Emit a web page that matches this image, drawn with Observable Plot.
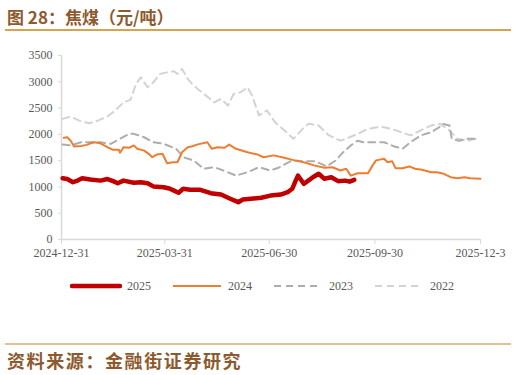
<!DOCTYPE html>
<html>
<head>
<meta charset="utf-8">
<script src="https://cdn.jsdelivr.net/npm/d3@7"></script>
<script src="https://cdn.jsdelivr.net/npm/@observablehq/plot@0.6"></script>
<style>
  html, body { margin:0; padding:0; background:#fff; }
  #page { position:relative; width:516px; height:375px; overflow:hidden; background:#fff; }
  #title { position:absolute; left:7px; top:4px; font-family:"Noto Sans CJK SC", sans-serif; font-weight:bold; font-size:17px; color:#8C5A2E; white-space:nowrap; }
  #topline { position:absolute; left:5px; top:29px; width:506px; height:2px; background:#D6A34E; }
  #chart { position:absolute; left:0; top:40px; }
  #legend { position:absolute; left:0; top:276px; width:516px; height:20px; font-family:"Liberation Serif", serif; font-size:12px; color:#595959; }
  .item { position:absolute; top:0; height:20px; display:flex; align-items:center; }
  .item span { margin-left:5px; }
  #botline { position:absolute; left:5px; top:343px; width:506px; height:2px; background:#DFC28F; }
  #caption { position:absolute; left:7px; top:347px; font-family:"Noto Sans CJK SC", sans-serif; font-weight:bold; font-size:18px; letter-spacing:1.6px; color:#8C5A2E; white-space:nowrap; }
</style>
</head>
<body>
<div id="page">
  <div id="title">图 28：焦煤（元/吨）</div>
  <div id="topline"></div>
  <div id="chart"></div>
  <div id="legend"></div>
  <div id="botline"></div>
  <div id="caption">资料来源：金融街证券研究</div>
</div>
<script>
// ---- data (month-day on the 2025 calendar axis, value in 元/吨) ----
const dates2025 = ["01-01","01-05","01-10","01-14","01-18","01-25","02-03","02-09","02-14","02-18","02-23","03-04","03-10","03-16","03-21","03-30","04-04","04-08","04-12","04-16","04-22","05-01","05-10","05-19","05-27","06-03","06-07","06-14","06-23","07-01","07-10","07-16","07-20","07-23","07-25","07-27","07-30","08-03","08-07","08-12","08-17","08-23","08-29","09-04","09-08","09-12"];
const values2025 = [1165,1150,1090,1120,1165,1140,1120,1150,1110,1070,1120,1080,1090,1070,1010,995,970,930,890,965,945,945,880,855,775,710,760,775,795,835,855,900,965,1120,1215,1155,1060,1120,1185,1250,1155,1185,1110,1120,1100,1135];

const dates2024 = ["01-02","01-05","01-08","01-11","01-17","01-22","01-28","02-03","02-09","02-14","02-19","02-20","02-23","02-28","03-04","03-07","03-13","03-17","03-20","03-24","03-29","04-02","04-07","04-11","04-15","04-20","04-24","04-28","05-07","05-11","05-16","05-22","05-26","06-01","06-11","06-20","06-25","07-04","07-13","07-22","07-30","08-08","08-17","08-24","08-31","09-05","09-09","09-15","09-24","09-28","10-01","10-08","10-11","10-15","10-18","10-24","10-30","11-04","11-10","11-18","11-23","11-29","12-05","12-11","12-17","12-22","12-31"];
const values2024 = [1935,1945,1880,1770,1780,1800,1850,1830,1755,1705,1705,1650,1755,1745,1790,1725,1690,1630,1565,1615,1630,1450,1470,1470,1660,1755,1775,1805,1850,1725,1755,1745,1805,1725,1660,1615,1565,1600,1555,1505,1470,1410,1365,1375,1312,1345,1215,1260,1260,1410,1505,1535,1470,1490,1355,1355,1390,1345,1325,1280,1280,1250,1185,1165,1185,1165,1155];

const dates2023 = ["01-01","01-08","01-17","01-25","02-03","02-12","02-20","02-28","03-04","03-13","03-21","03-30","04-10","04-16","04-25","05-04","05-13","05-21","06-01","06-11","06-21","07-01","07-08","07-20","07-29","08-09","08-19","08-27","09-01","09-09","09-15","09-20","09-26","10-08","10-17","10-24","10-31","11-09","11-18","11-25","11-28","12-04","12-06","12-12","12-20","12-29"];
const values2023 = [1805,1790,1850,1850,1850,1820,1915,2010,2010,1945,1850,1820,1725,1565,1505,1345,1375,1312,1215,1280,1375,1312,1365,1505,1490,1490,1390,1505,1630,1790,1880,1850,1850,1850,1770,1725,1850,1980,2040,2135,2200,2170,1915,1880,1915,1915];

const dates2022 = ["01-01","01-08","01-15","01-24","02-01","02-09","02-16","02-23","03-01","03-06","03-10","03-16","03-21","03-27","04-02","04-08","04-11","04-15","04-20","04-25","05-04","05-13","05-19","05-25","05-30","06-05","06-11","06-15","06-21","06-28","07-05","07-15","07-21","07-29","08-03","08-12","08-21","08-31","09-07","09-16","09-24","10-02","10-08","10-17","10-23","10-31","11-09","11-18","11-26","12-04","12-11","12-20","12-27"];
const values2022 = [2295,2340,2265,2210,2265,2340,2455,2610,2655,2960,3085,2895,2990,3150,3180,3200,3150,3245,3055,2930,2770,2610,2675,2550,2770,2800,2895,2740,2360,2455,2230,2040,1915,2105,2200,2170,1980,1880,1935,2020,2105,2135,2135,2085,2040,1980,2075,2170,2200,2075,1915,1880,1915];

const seriesNames = ["2025","2024","2023","2022"];
const seriesColors = ["#C00000","#ED7D31","#ADADAD","#D3D3D3"];
const yTicks = [0,500,1000,1500,2000,2500,3000,3500];
const xTickDates = ["2024-12-31","2025-03-31","2025-06-30","2025-09-30","2025-12-31"];
const xTickLabels = ["2024-12-31","2025-03-31","2025-06-30","2025-09-30","2025-12-3"];

// ---- build ----
const md = s => new Date(`2025-${s}T00:00:00Z`);
const toRows = (ds, vs, name) => ds.map((d, i) => ({date: md(d), value: vs[i], series: name}));
const rows = {
  "2025": toRows(dates2025, values2025, "2025"),
  "2024": toRows(dates2024, values2024, "2024"),
  "2023": toRows(dates2023, values2023, "2023"),
  "2022": toRows(dates2022, values2022, "2022")
};
const tickDates = xTickDates.map(s => new Date(s + "T00:00:00Z"));
const labelOf = new Map(tickDates.map((d, i) => [+d, xTickLabels[i]]));
const color = Object.fromEntries(seriesNames.map((n, i) => [n, seriesColors[i]]));

const chart = Plot.plot({
  width: 516,
  height: 225,
  marginLeft: 61,
  marginRight: 36,
  marginTop: 15,
  marginBottom: 26,
  style: {fontFamily: "'Liberation Serif', 'Times New Roman', serif", fontSize: "12px", color: "#595959", background: "transparent", overflow: "visible"},
  x: {type: "utc", domain: [tickDates[0], tickDates[4]]},
  y: {domain: [0, 3500]},
  marks: [
    Plot.axisY({ticks: yTicks, tickSize: 3, tickPadding: 6, stroke: "#D9D9D9", fill: "#595959", label: null, tickFormat: d => String(d)}),
    Plot.axisX({ticks: tickDates, tickSize: 5, tickPadding: 4, stroke: "#D9D9D9", fill: "#595959", label: null, tickFormat: d => labelOf.get(+d)}),
    Plot.ruleX([tickDates[0]], {stroke: "#D9D9D9", strokeWidth: 1.5}),
    Plot.ruleY([0], {stroke: "#D9D9D9", strokeWidth: 1.5}),
    Plot.line(rows["2022"], {x: "date", y: "value", stroke: color["2022"], strokeWidth: 2, strokeDasharray: "7,5"}),
    Plot.line(rows["2023"], {x: "date", y: "value", stroke: color["2023"], strokeWidth: 2, strokeDasharray: "7,5"}),
    Plot.line(rows["2024"], {x: "date", y: "value", stroke: color["2024"], strokeWidth: 2}),
    Plot.line(rows["2025"], {x: "date", y: "value", stroke: color["2025"], strokeWidth: 4.5, strokeLinejoin: "round"})
  ]
});
document.getElementById("chart").appendChild(chart);

// ---- legend ----
const legend = document.getElementById("legend");
const legendX = [70, 171, 272, 373];
const legendStyle = {
  "2025": {w: 4.5, dash: null, cap: "round"},
  "2024": {w: 2, dash: null, cap: "butt"},
  "2023": {w: 2, dash: "7,5", cap: "butt"},
  "2022": {w: 2, dash: "7,5", cap: "butt"}
};
seriesNames.forEach((n, i) => {
  const st = legendStyle[n];
  const item = document.createElement("div");
  item.className = "item";
  item.style.left = legendX[i] + "px";
  item.innerHTML = `<svg width="52" height="10"><line x1="2" x2="50" y1="5" y2="5" stroke="${color[n]}" stroke-width="${st.w}" stroke-linecap="${st.cap}" ${st.dash ? `stroke-dasharray="${st.dash}"` : ""}/></svg><span>${n}</span>`;
  legend.appendChild(item);
});
</script>
</body>
</html>
